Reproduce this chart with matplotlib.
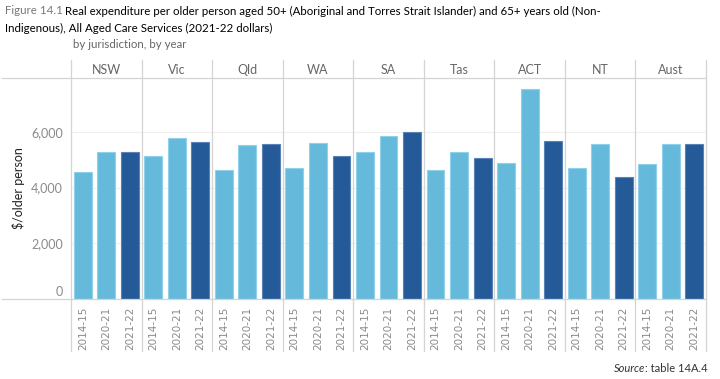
import numpy as np
import matplotlib
matplotlib.use('Agg')
import matplotlib.pyplot as plt
from matplotlib.lines import Line2D

# ── Data ───────────────────────────────────────────────────────────────────
JURIS = ["NSW", "Vic", "Qld", "WA", "SA", "Tas", "ACT", "NT", "Aust"]
YEARS = ["2014-15", "2020-21", "2021-22"]
V_2014 = [4550, 5135, 4630, 4690, 5290, 4620, 4885, 4690, 4860]
V_2020 = [5290, 5775, 5530, 5615, 5845, 5290, 7550, 5555, 5580]
V_2021 = [5290, 5650, 5555, 5145, 5990, 5075, 5675, 4365, 5580]

C_LIGHT = "#65BADB"
C_DARK = "#255A99"
C_EDGE_L = "#8FD0EA"
C_EDGE_D = "#5B82B8"
GRAY_TXT = "#8a8a8a"
LINE_C = "#d4d4d4"

plt.rcParams['font.family'] = ['Lato', 'DejaVu Sans']

W, H = 720, 379
fig = plt.figure(figsize=(7.2, 3.79), dpi=100)

def fx(px):
    return px / W

def fy(py):
    return 1 - py / H

L, R, T, B = 71, 706, 78, 298.5
ax = fig.add_axes([fx(L), fy(B), fx(R) - fx(L), fy(T) - fy(B)])

n = len(JURIS)
series = [V_2014, V_2020, V_2021]
colors = [C_LIGHT, C_LIGHT, C_DARK]
edges = [C_EDGE_L, C_EDGE_L, C_EDGE_D]
for j, vals in enumerate(series):
    x = np.arange(n) * 3 + j
    ax.bar(x, vals, width=0.76, color=colors[j], edgecolor=edges[j],
           linewidth=0.8, zorder=3)

ax.set_xlim(-0.5, n * 3 - 0.5)
ax.set_ylim(0, 7950)
ax.set_yticks([0, 2000, 4000, 6000])
ax.set_yticklabels(["0", "2,000", "4,000", "6,000"])
ax.yaxis.grid(True, color="#f0f0f0", linewidth=0.8, zorder=0)
ax.tick_params(axis='y', length=0, labelsize=9, labelcolor=GRAY_TXT, pad=6)
ax.get_yticklabels()[0].set_va('bottom')

xt = np.arange(n * 3)
ax.set_xticks(xt)
ax.set_xticklabels(YEARS * n, rotation=90, fontsize=7.5, color=GRAY_TXT,
                   family='DejaVu Sans')
ax.tick_params(axis='x', length=0, pad=6)
for s in ax.spines.values():
    s.set_visible(False)

ax.set_ylabel("$/older person", fontsize=9, color="#222222", labelpad=4)

# panel separators and header band
for k in range(n + 1):
    xp = L + k * (R - L) / n
    fig.add_artist(Line2D([fx(xp), fx(xp)], [fy(60), fy(351)],
                          color=LINE_C, linewidth=0.9))
for yp in (T, B):
    fig.add_artist(Line2D([fx(2), fx(R)], [fy(yp), fy(yp)],
                          color=LINE_C, linewidth=0.9))
for k, name in enumerate(JURIS):
    xc = L + (k + 0.5) * (R - L) / n
    fig.text(fx(xc), fy(70), name, ha='center', va='center',
             fontsize=9, color="#666666")

# titles
TS = 8.3
t1 = fig.text(fx(5), fy(11), "Figure 14.1", fontsize=TS, color="#777777",
              va='center', ha='left')
fig.canvas.draw()
bb = t1.get_window_extent()
fig.text(bb.x1 / W + 0.003, fy(11),
         "Real expenditure per older person aged 50+ (Aboriginal and Torres Strait Islander) and 65+ years old (Non-",
         fontsize=TS, color="#000000", va='center', ha='left')
fig.text(fx(5), fy(28), "Indigenous), All Aged Care Services (2021-22 dollars)",
         fontsize=TS, color="#000000", va='center', ha='left')
fig.text(fx(73), fy(45), "by jurisdiction, by year", fontsize=TS,
         color="#666666", va='center', ha='left')

s2 = fig.text(fx(708), fy(368), ": table 14A.4", fontsize=8,
              color="#333333", va='center', ha='right')
fig.canvas.draw()
bb2 = s2.get_window_extent()
fig.text(bb2.x0 / W, fy(368), "Source", fontsize=8, style='italic',
         color="#333333", va='center', ha='right')

fig.savefig("out.png", dpi=100)
